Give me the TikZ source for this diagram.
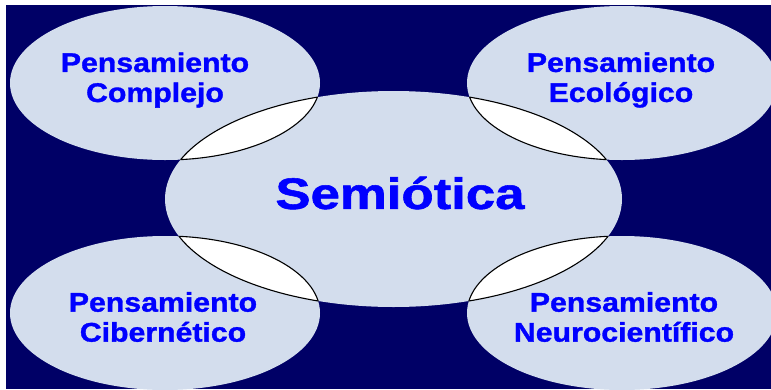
\documentclass[tikz,border=0pt]{standalone}
\usepackage{fontspec}
\setmainfont{Liberation Sans}[BoldFeatures={FakeBold=1.2}]
\usepackage{tikz}
\usetikzlibrary{positioning}
\definecolor{fondo}{RGB}{0,0,102}
\definecolor{celeste}{RGB}{211,221,237}
\definecolor{azul}{RGB}{0,0,255}

\begin{document}
\begin{tikzpicture}[x=1pt, y=-1pt,
  rotulo/.style={text=azul, align=center, xscale=1.12,
    font=\bfseries\fontsize{27}{30}\selectfont},
  lente/.style={line width=1.1pt, black}]
\useasboundingbox (0,0) rectangle (771,389);
\fill[fondo] (6,5) rectangle (771,389);
\clip (6,5) rectangle (771,389);
% elipses
\fill[celeste] (393.5,199) ellipse [x radius=228.5pt, y radius=108pt];
\foreach \cx/\cy in {165/83, 622/83, 165/313, 622/313}
  \fill[celeste] (\cx,\cy) ellipse [x radius=155pt, y radius=77pt];
% intersecciones
\foreach \cx/\cy in {165/83, 622/83, 165/313, 622/313}{
  \begin{scope}
    \clip (393.5,199) ellipse [x radius=228.5pt, y radius=108pt];
    \fill[white] (\cx,\cy) ellipse [x radius=155pt, y radius=77pt];
    \draw[lente] (\cx,\cy) ellipse [x radius=155pt, y radius=77pt];
  \end{scope}
  \begin{scope}
    \clip (\cx,\cy) ellipse [x radius=155pt, y radius=77pt];
    \draw[lente] (393.5,199) ellipse [x radius=228.5pt, y radius=108pt];
  \end{scope}
}
\node[rotulo] (complejo) at (155,80) {Pensamiento\\Complejo};
\node[rotulo] (ecologico) at (621,80) {Pensamiento\\Ecológico};
\node[rotulo] (cibernetico) at (163,317) {Pensamiento\\Cibernético};
\node[rotulo] (neuro) at (624,317) {Pensamiento\\Neurocientífico};
\node[rotulo, xscale=1.07, font=\bfseries\fontsize{44}{48}\selectfont] (semiotica) at (400,193) {Semiótica};
\end{tikzpicture}
\end{document}
